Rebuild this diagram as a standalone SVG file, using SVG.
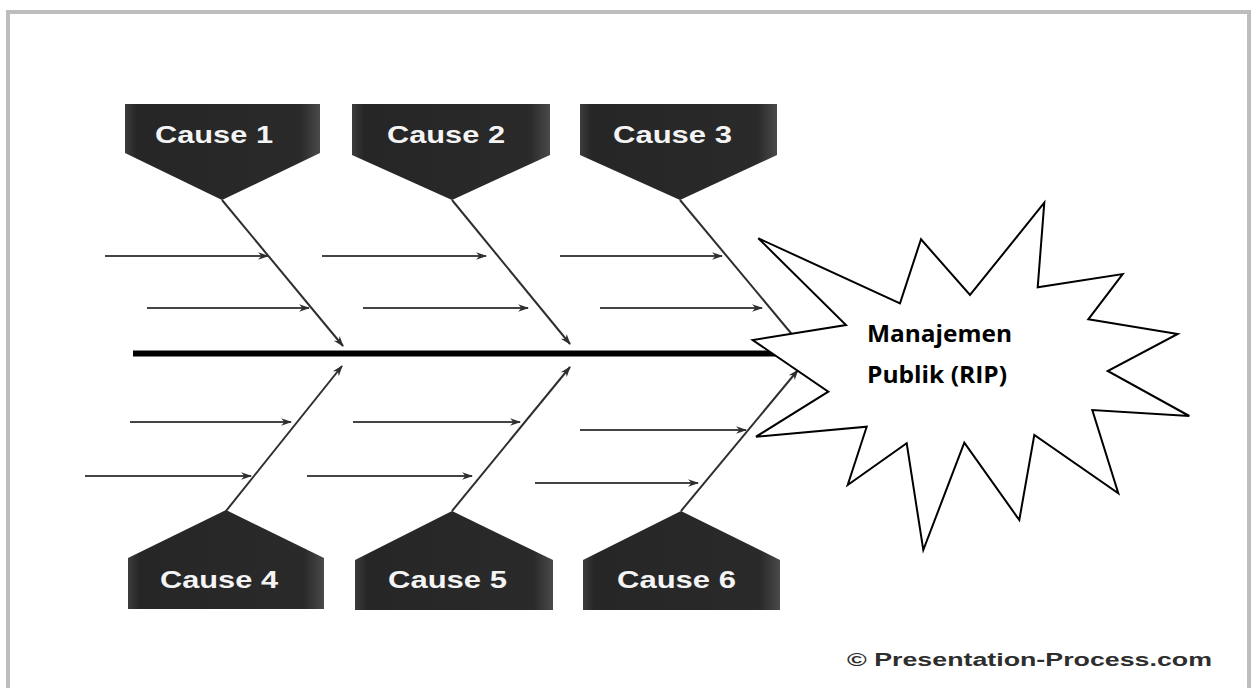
<svg xmlns="http://www.w3.org/2000/svg" width="1253" height="688" viewBox="0 0 1253 688">
<style>
.frame{fill:none;stroke:#bdbdbd;stroke-width:4}
.box{fill:url(#boxg)}
.lbl{font-family:"Liberation Sans",Arial,sans-serif;font-weight:bold;font-size:24px;fill:#f4f4f4}
.bone{stroke:#2e2e2e;stroke-width:2;fill:none;marker-end:url(#ah)}
.sub{stroke:#444;stroke-width:2;fill:none;marker-end:url(#ah)}
.spine{stroke:#000;stroke-width:6}
.star{fill:#fff;stroke:#000;stroke-width:2;stroke-linejoin:miter}
.title{font-family:"Open Sans","Liberation Sans",sans-serif;font-weight:bold;font-size:24px;fill:#000}
.copy{font-family:"Liberation Sans",Arial,sans-serif;font-weight:bold;font-size:18px;fill:#2e2e2e}
</style>
<defs>
<linearGradient id="boxg" x1="0" y1="0" x2="1" y2="0">
<stop offset="0" stop-color="#3c3c3c"/>
<stop offset="0.06" stop-color="#262626"/>
<stop offset="0.9" stop-color="#2a2a2a"/>
<stop offset="1" stop-color="#4a4a4a"/>
</linearGradient>
<marker id="ah" viewBox="0 0 10 10" refX="9" refY="5" markerWidth="11" markerHeight="11" orient="auto" markerUnits="userSpaceOnUse">
<path d="M0,1.5 L10,5 L0,8.5 L3,5 z" fill="#2e2e2e"/>
</marker>
</defs>
<rect width="1253" height="688" fill="#fff"/>
<path class="frame" d="M8,700 L8,12 L1249,12 L1249,700"/>

<g id="connectors">
<line class="spine" x1="133" y1="353.5" x2="810" y2="353.5"/>
<line class="bone" x1="222" y1="200" x2="343" y2="346"/>
<line class="bone" x1="452" y1="200" x2="570" y2="344"/>
<line class="bone" x1="680" y1="200" x2="800" y2="344"/>
<line class="bone" x1="226" y1="511" x2="342" y2="366"/>
<line class="bone" x1="452" y1="511" x2="570" y2="367"/>
<line class="bone" x1="681" y1="511" x2="798" y2="370"/>
<line class="sub" x1="105" y1="256" x2="268" y2="256"/>
<line class="sub" x1="147" y1="308" x2="309" y2="308"/>
<line class="sub" x1="322" y1="256" x2="486" y2="256"/>
<line class="sub" x1="363" y1="308" x2="528" y2="308"/>
<line class="sub" x1="560" y1="256" x2="722" y2="256"/>
<line class="sub" x1="600" y1="308" x2="762" y2="308"/>
<line class="sub" x1="130" y1="422" x2="291" y2="422"/>
<line class="sub" x1="85" y1="476" x2="251" y2="476"/>
<line class="sub" x1="353" y1="422" x2="520" y2="422"/>
<line class="sub" x1="307" y1="476" x2="472" y2="476"/>
<line class="sub" x1="580" y1="430" x2="746" y2="430"/>
<line class="sub" x1="535" y1="483" x2="698" y2="483"/>
</g>

<g id="cause1">
<polygon class="box" points="125,104 320,104 320,153 222,200 125,153"/>
<text class="lbl" x="155" y="143" textLength="118" lengthAdjust="spacingAndGlyphs">Cause 1</text>
</g>
<g id="cause2">
<polygon class="box" points="352,104 550,104 550,155 452,200 352,155"/>
<text class="lbl" x="387" y="143" textLength="118" lengthAdjust="spacingAndGlyphs">Cause 2</text>
</g>
<g id="cause3">
<polygon class="box" points="580,104 777,104 777,155 680,200 580,155"/>
<text class="lbl" x="613" y="143" textLength="119" lengthAdjust="spacingAndGlyphs">Cause 3</text>
</g>
<g id="cause4">
<polygon class="box" points="128,558 226,510 324,558 324,609 128,609"/>
<text class="lbl" x="160" y="588" textLength="118" lengthAdjust="spacingAndGlyphs">Cause 4</text>
</g>
<g id="cause5">
<polygon class="box" points="355,560 452,511 553,560 553,610 355,610"/>
<text class="lbl" x="388" y="588" textLength="119" lengthAdjust="spacingAndGlyphs">Cause 5</text>
</g>
<g id="cause6">
<polygon class="box" points="583,560 681,511 780,560 780,610 583,610"/>
<text class="lbl" x="617" y="588" textLength="119" lengthAdjust="spacingAndGlyphs">Cause 6</text>
</g>

<g id="effect">
<polygon class="star" points="758.3,238.3 900,303.3 921,239.3 970,295 1044.3,202.7 1037.7,287.3 1122.7,274 1088.3,319.3 1177.7,334 1107.7,371 1189.3,416 1092.3,410 1118.3,493.3 1034.3,435 1019.3,520 964.3,442.7 923.3,550 906.7,443.3 847.7,485 866.7,426.7 756,436.7 828.3,391.7 752.7,340 846,325"/>
<text class="title" x="867" y="341.5" textLength="145" lengthAdjust="spacingAndGlyphs">Manajemen</text>
<text class="title" x="867" y="383" textLength="140" lengthAdjust="spacingAndGlyphs">Publik (RIP)</text>
</g>

<g id="credit">
<text class="copy" x="847" y="666" textLength="365" lengthAdjust="spacingAndGlyphs">© Presentation-Process.com</text>
</g>
</svg>
